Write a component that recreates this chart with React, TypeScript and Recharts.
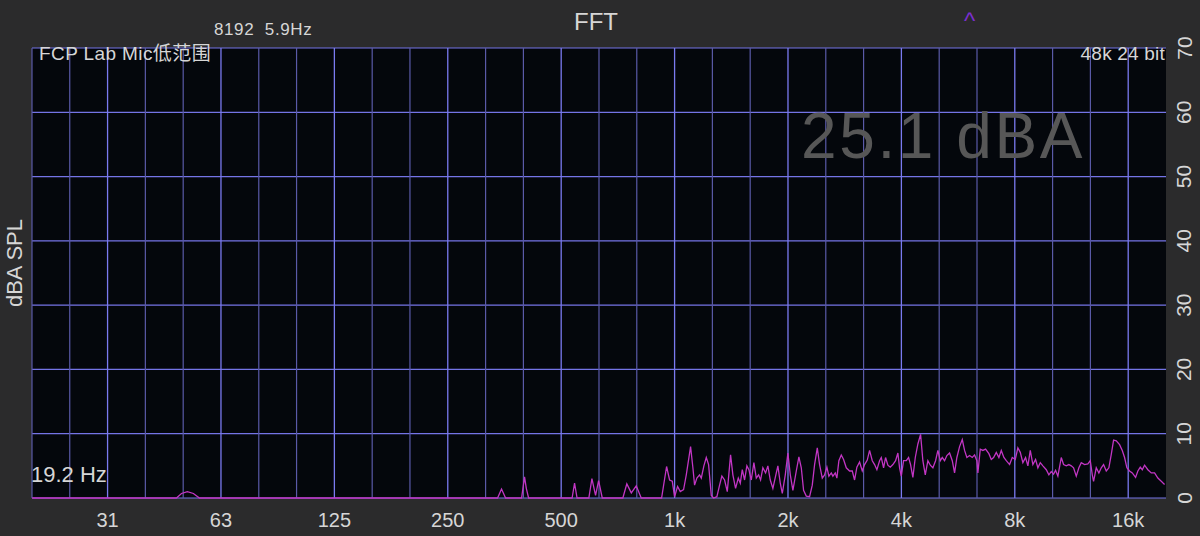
import { CartesianGrid, Line, LineChart, ReferenceLine, XAxis, YAxis } from "recharts";

// spectrum trace (Hz, dBA)
const freqHz = [
  19.7, 47.6, 49.1, 50.9, 52.8, 54.8, 338.9, 347.2, 356.0, 392.5, 399.7, 404.0, 409.7, 534.5, 542.6, 551.0,
  592.1, 603.3, 616.9, 628.5, 642.7, 728.9, 746.8, 767.5, 791.1, 815.7, 923.6, 952.3, 969.9, 986, 1000,
  1018.5, 1035.4, 1056.5, 1074.1, 1102.7, 1118.4, 1130, 1146, 1165.1, 1177.3, 1196.1, 1213.8, 1231, 1251.5,
  1269.2, 1295, 1316.6, 1335.2, 1357.4, 1380, 1408.1, 1428, 1451.8, 1476, 1494.2, 1512.5, 1533.9, 1555.7,
  1574.8, 1598.1, 1623.7, 1647.7, 1671, 1691.5, 1715.5, 1744, 1768.6, 1794.8, 1823.6, 1853.9, 1880.2, 1907.9,
  1931.5, 1967.2, 1998.8, 2028.4, 2060.9, 2104.1, 2137.8, 2169.4, 2199.9, 2236.7, 2282.1, 2320.1, 2353,
  2392.2, 2426, 2466.3, 2501.3, 2536.8, 2568, 2605.9, 2631.4, 2670.4, 2696.6, 2729.7, 2770.1, 2809.2, 2856,
  2914.2, 2962.7, 3004.8, 3047.2, 3097.9, 3149.4, 3194.1, 3247.2, 3293, 3348.1, 3395.4, 3443.5, 3500.8,
  3537.4, 3587.3, 3631.3, 3682.8, 3737.3, 3797.2, 3860.4, 3914.9, 3955.8, 3997.2, 4053.6, 4121.4, 4179.6,
  4230.9, 4290.9, 4354.5, 4424.3, 4497.9, 4561.3, 4628.9, 4703, 4772.7, 4849.2, 4929.4, 4999.4, 5073.4,
  5135.7, 5208.1, 5282, 5369.9, 5459.2, 5536.7, 5614.8, 5708.2, 5803.2, 5885.6, 5969.2, 6067.9, 6168.9,
  6256.5, 6345.3, 6384.2, 6478.1, 6581.9, 6691.4, 6828, 6929.1, 7026.8, 7144.4, 7258.9, 7365.7, 7483.8,
  7594.6, 7748.8, 7877.7, 8024, 8151.8, 8272.5, 8405.1, 8545, 8666.3, 8793.8, 8934.7, 9083.4, 9212.3,
  9348.8, 9498.6, 9697.4, 9852.8, 9998.6, 10139, 10265, 10410, 10628, 10779, 10958, 11134, 11298, 11458,
  11649, 11836, 12011, 12255, 12505, 12690, 12846, 12948, 13163, 13374, 13573, 13764, 13993, 14217, 14428,
  14633, 14876, 15178, 15431, 15650, 15872, 16136, 16404, 16738, 16975, 17226, 17438, 17685, 18044, 18423,
  18799, 19181, 19584, 19983,
];
const levelDb = [
  0, 0, 0.7, 1.0, 0.7, 0, 0, 1.4, 0, 0, 3.3, 1.5, 0, 0, 2.3, 0,
  0, 3.0, 0.4, 2.7, 0, 0, 2.2, 0.8, 1.9, 0, 0, 4.9, 2.8, 2.6, 0.2,
  1.8, 1.0, 1.3, 3.6, 8.0, 4.7, 2.0, 3.1, 3.6, 3.1, 5.0, 6.3, 5.2, 0.4,
  0, 0.2, 2.0, 3.4, 2.8, 1.0, 6.7, 3.6, 1.5, 3.1, 2.3, 4.4, 2.8, 5.0,
  4.4, 2.8, 5.5, 3.1, 3.6, 2.8, 4.7, 3.9, 5.0, 2.8, 1.5, 3.4, 5.0, 2.3,
  0.7, 3.6, 7.0, 3.6, 1.2, 4.2, 6.4, 4.7, 1.2, 0.3, 0.2, 2.0, 5.2,
  7.8, 5.2, 3.1, 3.6, 4.8, 3.4, 3.9, 3.4, 3.9, 3.1, 5.8, 6.7, 6.0, 4.7,
  4.2, 4.2, 2.8, 4.8, 5.6, 4.2, 5.2, 5.9, 7.4, 5.8, 5.2, 4.4, 5.8,
  6.3, 4.7, 6.3, 5.1, 4.8, 5.2, 5.8, 7.0, 4.7, 3.4, 5.8, 5.8, 6.3,
  5.2, 3.2, 6.3, 8.4, 9.9, 5.8, 3.6, 5.8, 5.1, 4.7, 5.8, 7.4, 5.8,
  6.3, 5.8, 6.6, 7.0, 5.8, 3.9, 6.3, 8.0, 9.1, 7.4, 6.3, 6.6, 6.3,
  6.7, 5.8, 3.9, 7.6, 7.4, 7.6, 6.9, 6.0, 6.3, 7.1, 6.3, 7.4, 6.3,
  5.8, 5.2, 6.3, 6.0, 7.8, 7.1, 5.5, 6.3, 5.0, 7.4, 5.2, 6.0, 4.7,
  5.5, 5.0, 4.4, 3.6, 4.1, 3.7, 4.3, 3.4, 6.3, 5.2, 5.0, 5.2, 5.0, 4.7,
  3.4, 4.7, 5.5, 5.2, 5.3, 5.8, 3.6, 2.6, 4.7, 3.9, 4.7, 5.2, 4.2, 4.7, 6.8,
  9.0, 8.9, 8.3, 7.4, 6.3, 4.7, 4.2, 3.9, 3.2, 4.2, 4.8, 4.4, 5.1, 4.4, 3.9,
  3.9, 3.1, 2.6, 2.1,
];

const octaveTicks = [31.25, 62.5, 125, 250, 500, 1000, 2000, 4000, 8000, 16000];
const octaveLabels = ["31", "63", "125", "250", "500", "1k", "2k", "4k", "8k", "16k"];
const thirdOctaveLines = [
  19.69, 24.8, 39.37, 49.61, 78.75, 99.21, 157.5, 198.4, 315, 396.9, 630, 793.7, 1259.9, 1587.4, 2519.8,
  3174.8, 5039.7, 6349.6, 10079, 12699,
];
const levelTicks = [0, 10, 20, 30, 40, 50, 60, 70];

const data = freqHz.map((f, i) => ({ f, db: levelDb[i] }));

const font = '"Liberation Sans", Arial, "Noto Sans CJK SC", sans-serif';
const textColor = "#d6d6d6";

function FreqTick({ x, y, payload }: any) {
  const idx = octaveTicks.indexOf(payload.value);
  return (
    <text x={x} y={y + 22} textAnchor="middle" dominantBaseline="central" fill={textColor} fontSize={20} fontFamily={font}>
      {octaveLabels[idx] ?? payload.value}
    </text>
  );
}

function LevelTick({ x, y, payload }: any) {
  const cx = x + 18;
  return (
    <text
      x={cx}
      y={y}
      transform={`rotate(-90, ${cx}, ${y})`}
      textAnchor="middle"
      dominantBaseline="central"
      fill={textColor}
      fontSize={21}
      fontFamily={font}
    >
      {payload.value}
    </text>
  );
}

function Label({ size, color = textColor, children, style }: any) {
  return (
    <div
      style={{
        position: "absolute",
        fontSize: size,
        lineHeight: 1,
        color,
        fontFamily: font,
        whiteSpace: "pre",
        ...style,
      }}
    >
      {children}
    </div>
  );
}

export default function App() {
  return (
    <div style={{ position: "absolute", left: 0, top: 0, width: 1200, height: 536, background: "#2b2b2c", overflow: "hidden" }}>
      <LineChart width={1200} height={536} data={data} margin={{ top: 48, right: 0, bottom: 0, left: 32 }}>
        <CartesianGrid vertical={false} stroke="#7474e6" strokeWidth={1.2} fill="#04070c" />
        {thirdOctaveLines.map((f) => (
          <ReferenceLine key={f} x={f} stroke="#5a5aa8" strokeWidth={1.2} />
        ))}
        {octaveTicks.map((f) => (
          <ReferenceLine key={f} x={f} stroke="#7a7af0" strokeWidth={1.3} />
        ))}
        <XAxis
          dataKey="f"
          type="number"
          scale="log"
          domain={[19.69, 20159]}
          allowDataOverflow
          ticks={octaveTicks}
          axisLine={false}
          tickLine={false}
          tickSize={0}
          tickMargin={0}
          height={38}
          tick={<FreqTick />}
          interval={0}
        />
        <YAxis
          orientation="right"
          type="number"
          domain={[0, 70]}
          ticks={levelTicks}
          axisLine={false}
          tickLine={false}
          tickSize={0}
          tickMargin={0}
          width={34}
          tick={<LevelTick />}
          interval={0}
        />
        <Line
          type="linear"
          dataKey="db"
          stroke="#c236c4"
          strokeWidth={1.3}
          dot={false}
          isAnimationActive={false}
        />
      </LineChart>

      <Label size={24} style={{ left: 574, top: 10 }}>FFT</Label>
      <Label size={17} style={{ left: 214, top: 21, letterSpacing: 0.6 }}>{"8192  5.9Hz"}</Label>
      <Label size={24} color="#7b2fcf" style={{ left: 964, top: 9 }}>^</Label>
      <Label size={19} style={{ left: 39, top: 44, letterSpacing: 0.4 }}>FCP Lab Mic低范围</Label>
      <Label size={19} style={{ right: 35, top: 44, letterSpacing: 0.2 }}>48k 24 bit</Label>
      <Label size={64} color="#575757" style={{ left: 801, top: 104, letterSpacing: 2.6 }}>25.1 dBA</Label>
      <Label size={22} style={{ left: 31, top: 464 }}>19.2 Hz</Label>
      <div
        style={{
          position: "absolute",
          left: 15,
          top: 263,
          transform: "translate(-50%, -50%) rotate(-90deg)",
          fontSize: 22,
          lineHeight: 1,
          color: textColor,
          fontFamily: font,
          whiteSpace: "pre",
        }}
      >
        dBA SPL
      </div>
    </div>
  );
}
